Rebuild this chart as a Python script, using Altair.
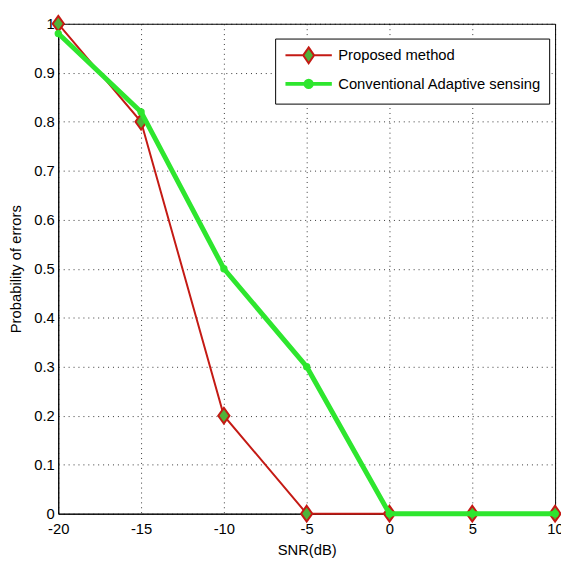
import altair as alt
import pandas as pd

snr = [-20, -15, -10, -5, 0, 5, 10]
proposed = [1.0, 0.8, 0.2, 0.0, 0.0, 0.0, 0.0]
conventional = [0.98, 0.82, 0.5, 0.3, 0.0, 0.0, 0.0]
series_names = ["Proposed method", "Conventional Adaptive sensing"]
x_ticks = [-20, -15, -10, -5, 0, 5, 10]
y_ticks = [0, 0.1, 0.2, 0.3, 0.4, 0.5, 0.6, 0.7, 0.8, 0.9, 1]

FONT = "Liberation Sans, Arial, sans-serif"
RED = "#c41a14"
DGREEN = "#4fb33a"
LGREEN = "#2ee62e"

df_p = pd.DataFrame({"snr": snr, "p": proposed, "series": series_names[0]})
df_c = pd.DataFrame({"snr": snr, "p": conventional, "series": series_names[1]})
df = pd.concat([df_p, df_c], ignore_index=True)

xs = alt.Scale(domain=[-20, 10], nice=False, zero=False)
ys = alt.Scale(domain=[0, 1], nice=False)

X = alt.X("snr:Q", scale=xs, axis=alt.Axis(values=x_ticks, title="SNR(dB)", labelExpr="'' + datum.value"))
Y = alt.Y("p:Q", scale=ys, axis=alt.Axis(values=y_ticks, title="Probability of errors", format="~g"))

diamond = "M0,-1.4L1,0L0,1.4L-1,0Z"

line_p = alt.Chart(df_p).mark_line(color=RED, strokeWidth=2).encode(x=X, y=Y)
pts_p = alt.Chart(df_p).mark_point(
    shape=diamond, size=130, filled=True, fill=DGREEN, stroke=RED, strokeWidth=2, opacity=1
).encode(x=X, y=Y)
line_c = alt.Chart(df_c).mark_line(color=LGREEN, strokeWidth=5).encode(x=X, y=Y)
pts_c = alt.Chart(df_c).mark_point(
    shape="circle", size=30, filled=True, fill=LGREEN, stroke=LGREEN, opacity=1
).encode(x=X, y=Y)

leg_p = "M-2.94,0L-0.69,0M0.69,0L2.94,0M0,-1L0.69,0L0,1L-0.69,0Z"
leg_c = "M-2.94,0L2.94,0M0.4,0A0.4,0.4,0,1,1,-0.4,0A0.4,0.4,0,1,1,0.4,0Z"

legend = alt.Legend(
    title=None, orient="none", legendX=220, legendY=15,
    strokeColor="black", fillColor="white", padding=8, rowPadding=5,
    symbolSize=256, symbolOffset=16, labelOffset=20, labelLimit=0,
    labelFont=FONT, labelFontSize=15, labelColor="black", cornerRadius=0,
    symbolOpacity=1,
)

leg_layer = alt.Chart(df).transform_filter("false").mark_point(filled=True, opacity=1).encode(
    x=X, y=Y,
    stroke=alt.Stroke("series:N", scale=alt.Scale(domain=series_names, range=[RED, LGREEN]), legend=legend),
    fill=alt.Fill("series:N", scale=alt.Scale(domain=series_names, range=[DGREEN, LGREEN]), legend=legend),
    shape=alt.Shape("series:N", scale=alt.Scale(domain=series_names, range=[leg_p, leg_c]), legend=legend),
    strokeWidth=alt.StrokeWidth("series:N", scale=alt.Scale(domain=series_names, range=[2, 4]), legend=legend),
)

chart = alt.layer(line_p, pts_p, line_c, pts_c, leg_layer).properties(
    width=504, height=497,
    autosize=alt.AutoSizeParams(type="none"),
    padding={"left": 51, "top": 12, "right": 6, "bottom": 44},
    background="white",
).configure_view(
    stroke="black", strokeWidth=1
).configure_axis(
    domainColor="black", domainWidth=1,
    grid=True, gridColor="black", gridDash=[1, 4], gridWidth=1, gridOpacity=0.8,
    tickSize=0, labelFont=FONT, labelFontSize=15, labelColor="black",
    titleFont=FONT, titleFontSize=15, titleFontWeight="normal", titleColor="black",
    labelOverlap=False, labelFlush=False,
).configure_axisX(
    labelPadding=8, titlePadding=6
).configure_axisY(
    labelPadding=4, titlePadding=10
)

chart.save("out.html", embed_options={"renderer": "svg", "actions": False})
